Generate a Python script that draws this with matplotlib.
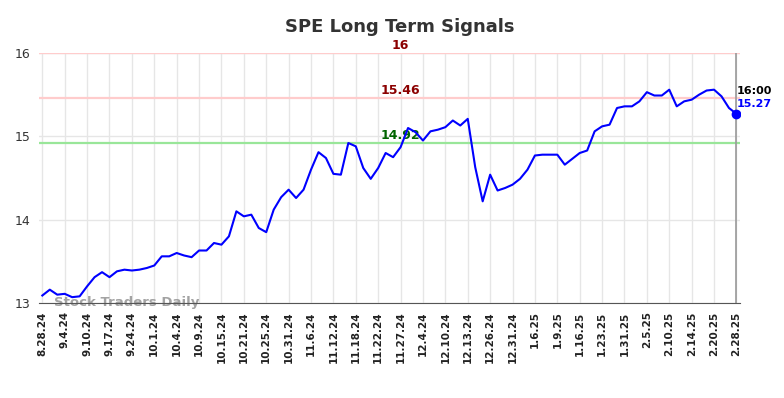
import matplotlib
matplotlib.use('Agg')
import matplotlib.pyplot as plt
import numpy as np

# closing prices
prices = [13.09, 13.16, 13.10, 13.11, 13.07, 13.08, 13.20, 13.31, 13.37, 13.31,
          13.38, 13.40, 13.39, 13.40, 13.42, 13.45, 13.56, 13.56, 13.60, 13.57,
          13.55, 13.63, 13.63, 13.72, 13.70, 13.80, 14.10, 14.04, 14.06, 13.90,
          13.85, 14.12, 14.27, 14.36, 14.26, 14.36, 14.60, 14.81, 14.74, 14.55,
          14.54, 14.92, 14.88, 14.62, 14.49, 14.62, 14.80, 14.75, 14.87, 15.10,
          15.05, 14.95, 15.06, 15.08, 15.11, 15.19, 15.13, 15.21, 14.63, 14.22,
          14.54, 14.35, 14.38, 14.42, 14.49, 14.60, 14.77, 14.78, 14.78, 14.78,
          14.66, 14.73, 14.80, 14.83, 15.06, 15.12, 15.14, 15.34, 15.36, 15.36,
          15.42, 15.53, 15.49, 15.49, 15.56, 15.36, 15.42, 15.44, 15.50, 15.55,
          15.56, 15.48, 15.34, 15.27]

tick_labels = ['8.28.24', '9.4.24', '9.10.24', '9.17.24', '9.24.24', '10.1.24',
               '10.4.24', '10.9.24', '10.15.24', '10.21.24', '10.25.24', '10.31.24',
               '11.6.24', '11.12.24', '11.18.24', '11.22.24', '11.27.24', '12.4.24',
               '12.10.24', '12.13.24', '12.26.24', '12.31.24', '1.6.25', '1.9.25',
               '1.16.25', '1.23.25', '1.31.25', '2.5.25', '2.10.25', '2.14.25',
               '2.20.25', '2.28.25']

levels = [16, 15.46, 14.92]
level_colors = ['#ffcccc', '#ffcccc', '#99e699']
label_colors = ['#8b0000', '#8b0000', '#006400']

last_time = '16:00'

x = np.arange(len(prices))
n = len(prices) - 1
tick_pos = np.linspace(0, n, len(tick_labels))

fig = plt.figure(figsize=(7.84, 3.98), dpi=100)
ax = fig.add_axes([0.0497, 0.2387, 0.8944, 0.6281])

ax.set_xlim(-0.45, n + 0.5)
ax.set_ylim(13, 16)

# grid
ax.set_xticks(tick_pos)
ax.set_xticklabels(tick_labels, rotation=90, fontsize=7.5, fontweight='bold', color='#222222')
ax.set_yticks([13, 14, 15, 16])
ax.set_yticklabels(['13', '14', '15', '16'], fontsize=9, color='#333333')
ax.grid(True, color='#e6e6e6', linewidth=1)
ax.set_axisbelow(True)
ax.tick_params(axis='both', length=0, pad=6)

for s in ['top', 'right', 'left']:
    ax.spines[s].set_visible(False)
ax.spines['bottom'].set_color('#555555')

# signal levels
for lv, c, lc in zip(levels, level_colors, label_colors):
    ax.axhline(lv, color=c, linewidth=1.6, zorder=1)
    ax.annotate(str(lv), xy=(0.515, lv), xycoords=ax.get_yaxis_transform(),
                xytext=(0, 0.5), textcoords='offset points', ha='center', va='bottom',
                fontsize=9, fontweight='bold', color=lc)

ax.axvline(n, color='#999999', linewidth=1.2, zorder=2)

ax.plot(x, prices, color='blue', linewidth=1.5, zorder=3)
ax.plot(x[-1], prices[-1], 'o', color='blue', markersize=6, zorder=4)

ax.annotate(last_time, xy=(x[-1], prices[-1]), xytext=(0, 16.5), textcoords='offset points',
            ha='left', va='center', fontsize=8, fontweight='bold', color='black')
ax.annotate('%.2f' % prices[-1], xy=(x[-1], prices[-1]), xytext=(0, 7), textcoords='offset points',
            ha='left', va='center', fontsize=8, fontweight='bold', color='blue')

ax.text(1.5, 13.0, 'Stock Traders Daily', fontsize=9.5, fontweight='bold', color='#999999',
        alpha=0.9, ha='left', va='center', zorder=2)

fig.text(0.51, 0.932, 'SPE Long Term Signals', ha='center', va='center',
         fontsize=13, fontweight='bold', color='#333333')

fig.savefig('out.png', dpi=100)
